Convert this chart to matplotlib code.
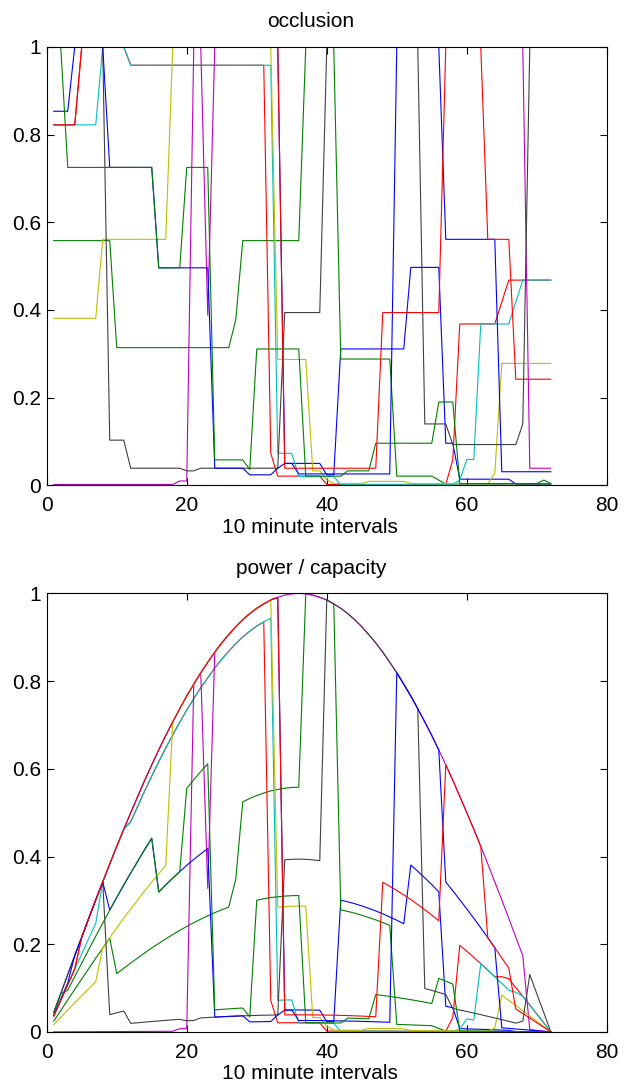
import numpy as np
import matplotlib
matplotlib.use('Agg')
import matplotlib.pyplot as plt

plt.rcParams['font.family'] = ['Liberation Sans', 'DejaVu Sans']

# time axis: 72 ten-minute intervals
x = np.arange(1, 73)

capacity = [0.044, 0.087, 0.131, 0.174, 0.216, 0.259, 0.301, 0.342, 0.383, 0.423,
            0.462, 0.500, 0.537, 0.574, 0.609, 0.643, 0.676, 0.707, 0.737, 0.766,
            0.793, 0.819, 0.843, 0.866, 0.887, 0.906, 0.924, 0.940, 0.954, 0.966,
            0.976, 0.985, 0.991, 0.996, 0.999, 1.000, 0.999, 0.996, 0.991, 0.985,
            0.976, 0.966, 0.954, 0.940, 0.924, 0.906, 0.887, 0.866, 0.843, 0.819,
            0.793, 0.766, 0.737, 0.707, 0.676, 0.643, 0.609, 0.574, 0.537, 0.500,
            0.462, 0.423, 0.383, 0.342, 0.301, 0.259, 0.216, 0.174, 0.131, 0.087,
            0.044, 0.000]

# occlusion series (one per sensor), in plotting order
occ_b2 = [1]*33 + [0.05]*6 + [0.024]*2 + [0.311]*10 + [0.497]*5 + [0.096]*2 + [0.014]*8 + [0.003]*6
occ_g2 = [0.558]*9 + [0.314]*17 + [0.377] + [0.558]*9 + [1]*5 + [0.288]*8 + [0.021]*6 + [0.012] + [0.003]*16
occ_r1 = [0.822]*4 + [1]*7 + [0.958]*20 + [0.073] + [0.021]*7 + [0.002]*18 + [0.058] + [0.368]*6 + [0.418] + [0.468]*7
occ_c = [0.822]*7 + [1]*4 + [0.958]*21 + [0.073]*3 + [0.02]*6 + [0.002]*17 + [0.012] + [0.059]*2 + [0.368]*5 + [0.418] + [0.468]*5
occ_m = [0.002]*18 + [0.01]*2 + [1]*2 + [0.388] + [1]*45 + [0.039]*4
occ_y = [0.381]*7 + [0.561]*10 + [1]*15 + [0.287]*5 + [0.033]*2 + [0.013] + [0.004]*5 + [0.009]*6 + [0.004]*12 + [0.027] + [0.278]*8
occ_k = [1]*8 + [0.103]*3 + [0.039]*8 + [0.033]*2 + [0.039]*12 + [0.394]*6 + [1]*14 + [0.14]*4 + [0.093]*10 + [0.14] + [1]*4
occ_b1 = [0.853]*3 + [1]*5 + [0.725]*7 + [0.496]*8 + [0.039]*5 + [0.024]*4 + [0.039] + [0.05]*2 + [0.026]*14 + [1]*7 + [0.561]*8 + [0.031]*8
occ_g1 = [1]*2 + [0.725]*13 + [0.496]*4 + [0.725]*4 + [0.058]*5 + [0.036] + [0.311]*7 + [0.021]*6 + [0.033]*4 + [0.096]*9 + [0.19]*3 + [0.004]*12 + [0.012] + [0.004]
occ_r2 = [0.822]*4 + [1]*29 + [0.039]*14 + [0.394]*9 + [1]*6 + [0.561]*4 + [0.242]*6

series = [occ_b2, occ_g2, occ_r1, occ_c, occ_m, occ_y, occ_k, occ_b1, occ_g1, occ_r2]

# old matlab colour order
colors = [(0, 0, 1), (0, 0.5, 0), (1, 0, 0), (0, 0.75, 0.75),
          (0.75, 0, 0.75), (0.75, 0.75, 0), (0.25, 0.25, 0.25)]

fig = plt.figure(figsize=(6.23, 10.86), dpi=100)
ax1 = fig.add_axes([0.075, 0.5531, 0.899, 0.4038])
ax2 = fig.add_axes([0.075, 0.0498, 0.899, 0.4038])

cap = np.array(capacity)
for i, occ in enumerate(series):
    col = colors[i % len(colors)]
    ax1.plot(x, occ, color=col, linewidth=0.8)
    ax2.plot(x, np.array(occ) * cap, color=col, linewidth=0.8)

for ax, title in [(ax1, 'occlusion'), (ax2, 'power / capacity')]:
    ax.set_xlim(0, 80)
    ax.set_ylim(0, 1)
    ax.set_xticks([0, 20, 40, 60, 80])
    ax.set_yticks([0, 0.2, 0.4, 0.6, 0.8, 1])
    ax.set_yticklabels(['0', '0.2', '0.4', '0.6', '0.8', '1'])
    ax.tick_params(direction='in', top=True, right=True, length=5, labelsize=15)
    ax.tick_params(axis='x', pad=8)
    ax.tick_params(axis='y', pad=4)
    # text in the original sits a little left of the axes centre
    ax.set_title(title, fontsize=15, pad=14, x=0.472)
    ax.set_xlabel('10 minute intervals', fontsize=15, labelpad=0)
    ax.xaxis.set_label_coords(0.47, -0.074)
    for s in ax.spines.values():
        s.set_linewidth(0.8)

plt.savefig('out.png', dpi=100)
